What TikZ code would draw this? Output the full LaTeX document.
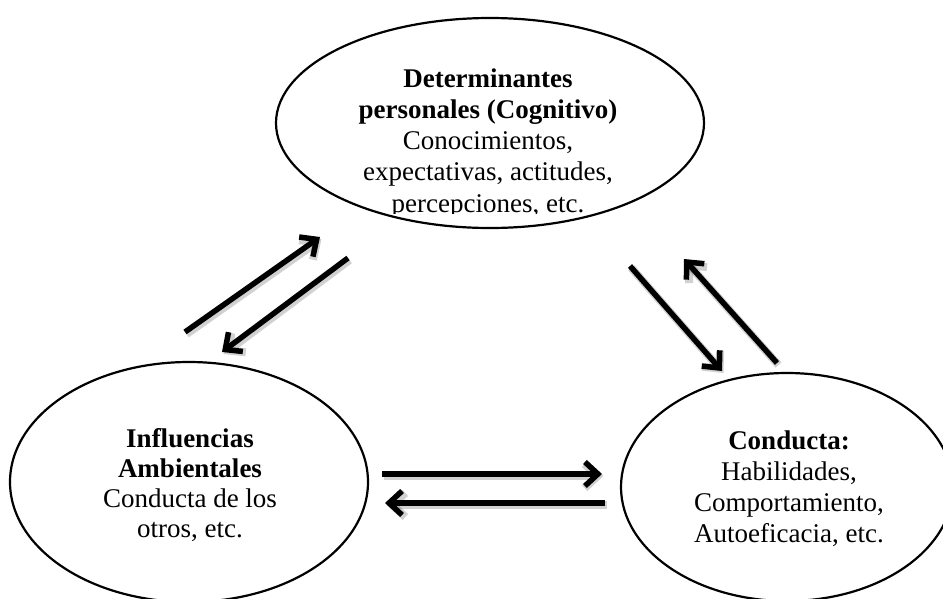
\documentclass[tikz,border=0pt]{standalone}
\usepackage{fontspec}
\setmainfont{Liberation Serif}
\usetikzlibrary{shapes.geometric,arrows.meta}
\begin{document}
\begin{tikzpicture}[x=1pt,y=-1pt,
  bubble/.style={draw, ellipse, line width=2.2pt, inner sep=0pt, outer sep=0pt},
  bubbletext/.style={align=center, inner sep=0pt, anchor=base,
    font=\fontsize{27}{30.5}\selectfont},
  link/.style={line width=5.5pt,
    -{Straight Barb[length=13pt,width=24pt]},
    preaction={draw=black, opacity=0.18, line width=8pt,
      transform canvas={shift={(1.5pt,-2pt)}}}}
]
\path[use as bounding box] (0,0) rectangle (943,598);
\clip (0,0) rectangle (943,598);

% the three factors
\node[bubble, minimum width=428, minimum height=210] (pers) at (490,123) {};
\node[bubble, minimum width=358, minimum height=240] (amb) at (189,482) {};
\node[bubble, minimum width=332, minimum height=228] (cond) at (787,487) {};

% texts inside the ellipses (anchored at the baseline of the last line)
\begin{scope}
  \clip (250,0) rectangle (750,213.5);
  \node[bubbletext, font=\fontsize{27}{31.2}\selectfont] (perstext) at (488,212)
    {\textbf{Determinantes}\\ \textbf{personales (Cognitivo)}\\ Conocimientos,\\
     expectativas, actitudes,\\ percepciones, etc.};
\end{scope}
\node[bubbletext, font=\fontsize{27}{30}\selectfont] (ambtext) at (190,537)
  {\textbf{Influencias}\\ \textbf{Ambientales}\\ Conducta de los\\ otros, etc.};
\node[bubbletext, font=\fontsize{27}{30.7}\selectfont] (condtext) at (789,542)
  {\textbf{Conducta:}\\ Habilidades,\\ Comportamiento,\\ Autoeficacia, etc.};

% end points of the reciprocal arrows
\coordinate (a1s) at (185,332); \coordinate (a1e) at (320,237);
\coordinate (a2s) at (348,258); \coordinate (a2e) at (222,352);
\coordinate (a3s) at (630,266); \coordinate (a3e) at (722,371);
\coordinate (a4s) at (777,363); \coordinate (a4e) at (684,259);
\coordinate (a5s) at (382,474); \coordinate (a5e) at (602,474);
\coordinate (a6s) at (605,503); \coordinate (a6e) at (385,503);

\draw[link] (a1s) -- (a1e);
\draw[link] (a2s) -- (a2e);
\draw[link] (a3s) -- (a3e);
\draw[link] (a4s) -- (a4e);
\draw[link] (a5s) -- (a5e);
\draw[link] (a6s) -- (a6e);
\end{tikzpicture}
\end{document}
